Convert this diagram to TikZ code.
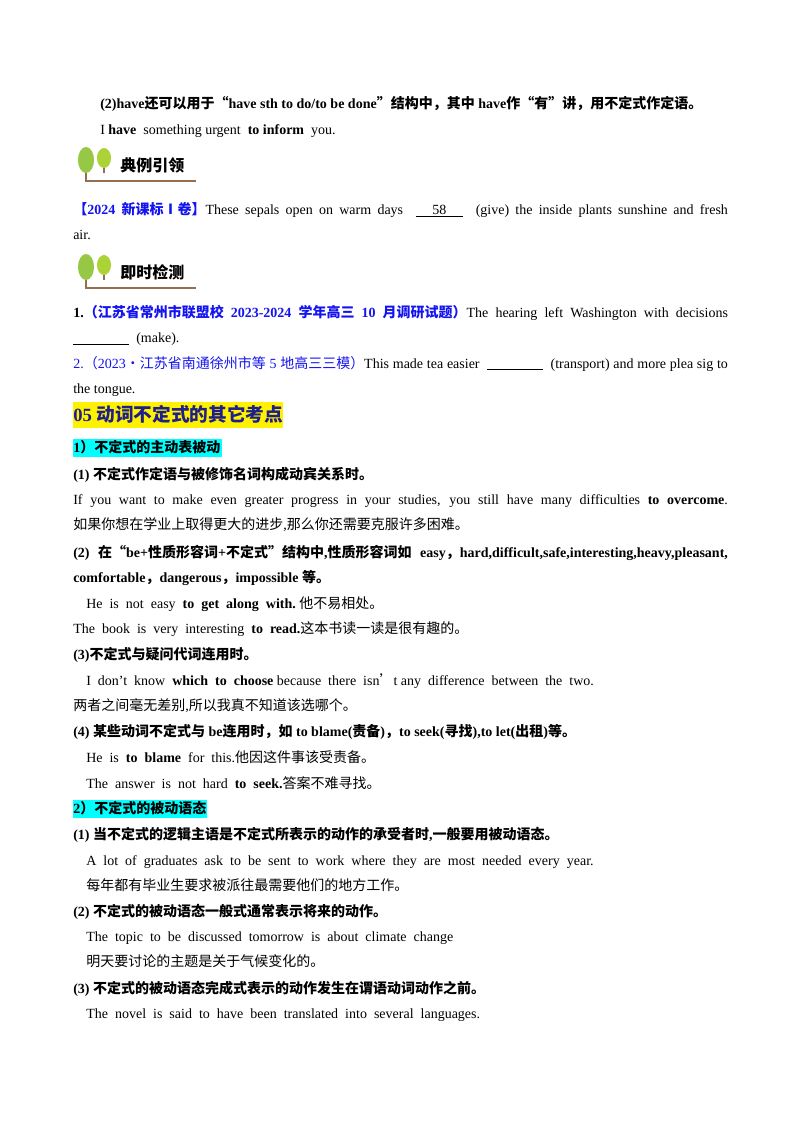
\documentclass[tikz,border=0pt]{standalone}
\usepackage{fontspec}
\setmainfont{Liberation Serif}
\newfontfamily\cjk{Noto Sans CJK SC}
\XeTeXinterchartokenstate=1
\newXeTeXintercharclass\cjkclass
\count255="4E00
\loop\XeTeXcharclass\count255=\cjkclass\advance\count255 1 \ifnum\count255<"A000 \repeat
\count255="3000
\loop\XeTeXcharclass\count255=\cjkclass\advance\count255 1 \ifnum\count255<"3040 \repeat
\count255="FF00
\loop\XeTeXcharclass\count255=\cjkclass\advance\count255 1 \ifnum\count255<"FF60 \repeat
\XeTeXcharclass"201C=\cjkclass \XeTeXcharclass"201D=\cjkclass \XeTeXcharclass"2019=\cjkclass
\XeTeXcharclass"2160=\cjkclass \XeTeXcharclass"00B7=\cjkclass
\XeTeXinterchartoks 0 \cjkclass={\begingroup\cjk}
\XeTeXinterchartoks 4095 \cjkclass={\begingroup\cjk}
\XeTeXinterchartoks \cjkclass 0={\endgroup}
\XeTeXinterchartoks \cjkclass 4095={\endgroup}
\definecolor{lblue}{RGB}{20,20,240}
\definecolor{navy}{RGB}{30,30,140}
\definecolor{leaf}{RGB}{150,200,70}
\definecolor{trunk}{RGB}{150,110,80}
\definecolor{hcyan}{RGB}{0,255,255}
\tikzset{ln/.style={anchor=base west,inner sep=0pt,font=\fontsize{10.5pt}{12pt}\selectfont},
 hb/.style={ln,font=\fontsize{10.5pt}{12pt}\selectfont\bfseries}}
\newcommand\blank[1]{\underline{\hspace*{#1}}}
\newcommand\full[1]{\makebox[491pt][s]{#1}}
\begin{document}
\begin{tikzpicture}[x=0.75pt,y=-0.75pt]
\useasboundingbox[fill=white] (0,0) rectangle (800,1132);
\newcommand\icon[3]{%
 \draw[trunk,line width=1pt] (#1+8,#2-2) -- (#1+8,#2+28) -- (#1+118,#2+28);
 \draw[trunk,line width=0.8pt] (#1+26,#2) -- (#1+26,#2+20);
 \fill[leaf] (#1+8,#2+7) ellipse (8 and 13);
 \fill[leaf!80!yellow] (#1+26,#2+5) ellipse (7 and 10);
 \node[anchor=west,inner sep=0pt,font=\fontsize{12pt}{13pt}\selectfont\bfseries] (#3) at (#1+42,#2+12) {\cjk #3};}
\node[hb] (l1) at (100,108) {(2)have还可以用于“have sth to do/to be done”结构中，其中 have作“有”讲，用不定式作定语。};
\node[ln] (l2) at (100,134) {I \textbf{have}\ \ something urgent\ \ \textbf{to inform}\ \ you.};
\icon{78}{153}{典例引领}
\node[ln] (l3) at (73,214) {\full{\textcolor{lblue}{\bfseries 【2024 新课标Ⅰ卷】}These sepals open on warm days\ \ \underline{\hspace*{1.2em}58\hspace*{1.2em}}\ \ (give) the inside plants sunshine and fresh}};
\node[ln] (l4) at (73,239) {air.};
\icon{78}{260}{即时检测}
\node[ln] (l5) at (73,317) {\full{\textbf{1.}\textcolor{lblue}{\bfseries （江苏省常州市联盟校 2023-2024 学年高三 10 月调研试题）}The hearing left Washington with decisions}};
\node[ln] (l6) at (73,342) {\blank{4em}\ \ (make).};
\node[ln] (l7) at (73,368) {\full{\textcolor{lblue}{2.（2023·江苏省南通徐州市等 5 地高三三模）}This made tea easier\ \ \rule[-1.5pt]{4em}{1pt}\ \ (transport) and more plea sig to}};
\node[ln] (l8) at (73,393) {the tongue.};
\fill[yellow] (73,402) rectangle (283,428);
\node[anchor=base west,inner sep=0pt,font=\fontsize{14pt}{15pt}\selectfont\bfseries,text=navy] (h1) at (73,421) {05 动词不定式的其它考点};
\fill[hcyan] (73,439) rectangle (222,457);
\node[hb] (s1) at (73,452) {1）不定式的主动表被动};
\node[hb] (a1) at (73,479) {(1)\ 不定式作定语与被修饰名词构成动宾关系时。};
\node[ln] (a2) at (73,504) {\full{If you want to make even greater progress in your studies, you still have many difficulties \textbf{to overcome}.}};
\node[ln] (a3) at (73,529) {如果你想在学业上取得更大的进步,那么你还需要克服许多困难。};
\node[hb] (a4) at (73,557) {\full{(2) 在“be+性质形容词+不定式”结构中,性质形容词如 easy，hard,difficult,safe,interesting,heavy,pleasant,}};
\node[hb] (a5) at (73,582) {comfortable，dangerous，impossible 等。};
\node[ln] (a6) at (86,608) {He\ \ is\ \ not\ \ easy\ \ \textbf{to\ \ get\ \ along\ \ with.}\ 他不易相处。};
\node[ln] (a7) at (73,633) {The\ \ book\ \ is\ \ very\ \ interesting\ \ \textbf{to\ \ read.}这本书读一读是很有趣的。};
\node[hb] (a8) at (73,659) {(3)不定式与疑问代词连用时。};
\node[ln] (a9) at (86,685) {I\ \ don't\ \ know\ \ \textbf{which\ \ to\ \ choose}\ because\ \ there\ \ isn’t\ any\ \ difference\ \ between\ \ the\ \ two.};
\node[ln] (a10) at (73,710) {两者之间毫无差别,所以我真不知道该选哪个。};
\node[hb] (a11) at (73,736) {(4)\ 某些动词不定式与 be连用时，如 to blame(责备)，to seek(寻找),to let(出租)等。};
\node[ln] (a12) at (86,762) {He\ \ is\ \ \textbf{to\ \ blame}\ \ for\ \ this.他因这件事该受责备。};
\node[ln] (a13) at (86,788) {The\ \ answer\ \ is\ \ not\ \ hard\ \ \textbf{to\ \ seek.}答案不难寻找。};
\fill[hcyan] (73,800) rectangle (207,818);
\node[hb] (s2) at (73,813) {2）不定式的被动语态};
\node[hb] (b1) at (73,839) {(1)\ 当不定式的逻辑主语是不定式所表示的动作的承受者时,一般要用被动语态。};
\node[ln] (b2) at (86,865) {A\ \ lot\ \ of\ \ graduates\ \ ask\ \ to\ \ be\ \ sent\ \ to\ \ work\ \ where\ \ they\ \ are\ \ most\ \ needed\ \ every\ \ year.};
\node[ln] (b3) at (86,890) {每年都有毕业生要求被派往最需要他们的地方工作。};
\node[hb] (b4) at (73,916) {(2)\ 不定式的被动语态一般式通常表示将来的动作。};
\node[ln] (b5) at (86,941) {The\ \ topic\ \ to\ \ be\ \ discussed\ \ tomorrow\ \ is\ \ about\ \ climate\ \ change};
\node[ln] (b6) at (86,966) {明天要讨论的主题是关于气候变化的。};
\node[hb] (b7) at (73,993) {(3)\ 不定式的被动语态完成式表示的动作发生在谓语动词动作之前。};
\node[ln] (b8) at (86,1018) {The\ \ novel\ \ is\ \ said\ \ to\ \ have\ \ been\ \ translated\ \ into\ \ several\ \ languages.};
\end{tikzpicture}
\end{document}
